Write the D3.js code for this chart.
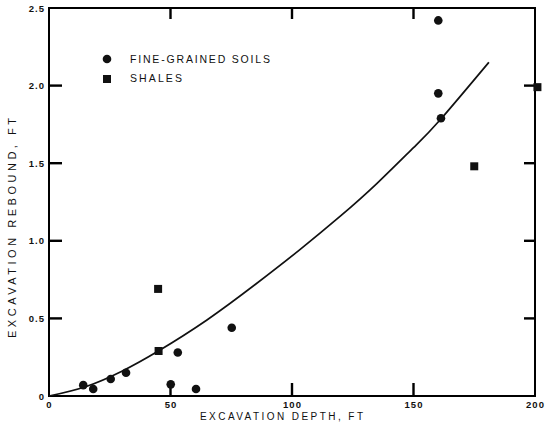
<!DOCTYPE html>
<html><head><meta charset="utf-8">
<script src="https://cdn.jsdelivr.net/npm/d3@7"></script>
<style>
html,body{margin:0;padding:0;background:#fff;}
svg{display:block;}
text{font-family:"Liberation Sans",Arial,sans-serif;fill:#111;}
</style></head>
<body><svg id="c" width="550" height="424"></svg>
<script>
const xTicks=[0,50,100,150,200];
const xInnerTicks=[50,100,150];
const yTicks=[0,0.5,1.0,1.5,2.0,2.5];
const yInnerTicks=[0.5,1.0,1.5,2.0];
const yTickLabels=["0","0.5","1.0","1.5","2.0","2.5"];
const soilsDepth=[160.2,160.2,161.3,14.1,18.2,25.4,31.7,50.1,53.0,60.5,75.2];
const soilsRebound=[2.42,1.95,1.79,0.07,0.045,0.11,0.15,0.075,0.28,0.045,0.44];
const shalesDepth=[44.9,45.1,175.0,201.0];
const shalesRebound=[0.69,0.29,1.48,1.99];
const curveDepth=[0,15,30,45,65,85,103,120,135,150,161,181];
const curveRebound=[0,0.06,0.16,0.29,0.49,0.72,0.94,1.16,1.37,1.60,1.78,2.15];
const legendLabels=["FINE-GRAINED SOILS","SHALES"];
const xTitle="EXCAVATION DEPTH, FT";
const yTitle="EXCAVATION REBOUND, FT";

const svg=d3.select("#c");
const L=49,R=535,T=8,B=396;
const x=d3.scaleLinear().domain([0,200]).range([L,R]);
const y=d3.scaleLinear().domain([0,2.5]).range([B,T]);
const ink="#000";
const tw=2.4;

const gb=svg.append("g").attr("transform",`translate(0,${B})`)
  .call(d3.axisBottom(x).tickValues(xTicks).tickSize(0).tickPadding(5.5).tickFormat(d3.format("d")));
gb.select(".domain").remove();
gb.selectAll("text").style("font-size","9.5px").style("font-weight","bold").style("letter-spacing","1px").attr("fill","#111");

const gl=svg.append("g").attr("transform",`translate(${L},0)`)
  .call(d3.axisLeft(y).tickValues(yTicks).tickSize(0).tickPadding(4).tickFormat((d,i)=>yTickLabels[i]));
gl.select(".domain").remove();
gl.selectAll("text").style("font-size","9.5px").style("font-weight","bold").style("letter-spacing","1px").attr("fill","#111");

// inward tick marks
const tk=svg.append("g").attr("fill",ink);
xInnerTicks.forEach(v=>{
  tk.append("rect").attr("x",x(v)-tw/2).attr("y",B-13).attr("width",tw).attr("height",13);
  tk.append("rect").attr("x",x(v)-tw/2).attr("y",T).attr("width",tw).attr("height",11);
});
yInnerTicks.forEach(v=>{
  tk.append("rect").attr("x",L).attr("y",y(v)-tw/2).attr("width",13).attr("height",tw);
  tk.append("rect").attr("x",R-11).attr("y",y(v)-tw/2).attr("width",11).attr("height",tw);
});

svg.append("rect").attr("x",L).attr("y",T).attr("width",R-L).attr("height",B-T)
  .attr("fill","none").attr("stroke",ink).attr("stroke-width",2);

const curvePts=curveDepth.map((d,i)=>[d,curveRebound[i]]);
svg.append("path").datum(curvePts)
  .attr("d",d3.line().x(d=>x(d[0])).y(d=>y(d[1])).curve(d3.curveNatural))
  .attr("fill","none").attr("stroke","#111").attr("stroke-width",1.7);

svg.append("g").selectAll("circle").data(soilsDepth.map((d,i)=>[d,soilsRebound[i]])).join("circle")
  .attr("cx",d=>x(d[0])).attr("cy",d=>y(d[1])).attr("r",4.3).attr("fill","#111");
const s=8;
svg.append("g").selectAll("rect").data(shalesDepth.map((d,i)=>[d,shalesRebound[i]])).join("rect")
  .attr("x",d=>x(d[0])-s/2).attr("y",d=>y(d[1])-s/2).attr("width",s).attr("height",s).attr("fill","#111");

const lg=svg.append("g");
lg.append("circle").attr("cx",107).attr("cy",59).attr("r",4.3).attr("fill","#111");
lg.append("rect").attr("x",103).attr("y",75).attr("width",8).attr("height",8).attr("fill","#111");
const legLens=[140,52];
lg.selectAll("text").data(legendLabels).join("text")
  .attr("x",130).attr("y",(d,i)=>62.5+i*19.5)
  .attr("textLength",(d,i)=>legLens[i]).attr("lengthAdjust","spacing")
  .style("font-size","10.5px").text(d=>d);

svg.append("text").attr("x",200).attr("y",419.5)
  .attr("textLength",163).attr("lengthAdjust","spacing")
  .style("font-size","10px").text(xTitle);
svg.append("text").attr("transform","translate(16,338) rotate(-90)")
  .attr("textLength",220).attr("lengthAdjust","spacing")
  .style("font-size","11px").text(yTitle);
</script></body></html>
